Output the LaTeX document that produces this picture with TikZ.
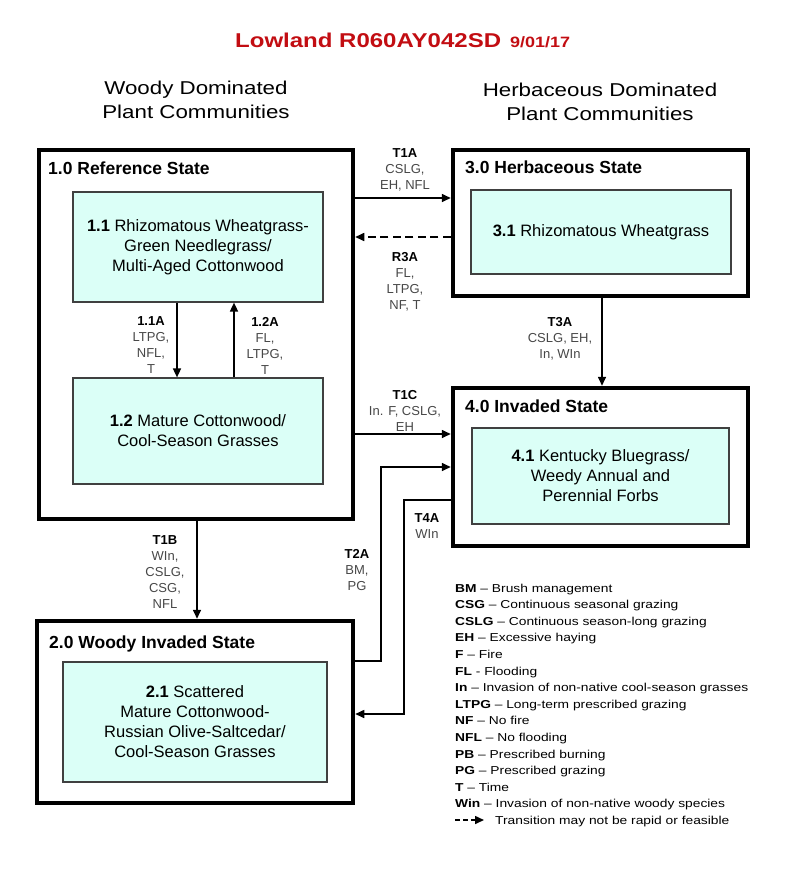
\documentclass[tikz,border=0pt]{standalone}
\usepackage{fontspec}
\setmainfont{Liberation Sans}
\newfontfamily\widesf[FakeStretch=1.2]{Liberation Sans}
\usetikzlibrary{arrows.meta}
\definecolor{titlered}{rgb}{0.76,0.05,0.07}
\definecolor{phasefill}{rgb}{0.86,1,0.97}
\definecolor{labelgray}{rgb}{0.28,0.28,0.28}

\begin{document}
\begin{tikzpicture}[x=1pt,y=-1pt,line join=miter,>={Triangle[length=9pt,width=8pt]},
  state/.style={draw,line width=4.5pt,inner sep=0pt},
  phase/.style={draw=black!75,line width=1.2pt,fill=phasefill,align=center,inner sep=0pt,font=\fontsize{16.5}{20}\selectfont},
  statetitle/.style={anchor=base west,inner sep=0pt,font=\bfseries\fontsize{17.5}{21}\selectfont},
  header/.style={align=center,inner sep=0pt,font=\widesf\fontsize{18.6}{24.5}\selectfont},
  trans/.style={align=center,inner sep=0pt,text=labelgray,font=\fontsize{13}{16}\selectfont},
  conn/.style={line width=1.6pt,->},
  legend/.style={anchor=base west,inner sep=0pt,font=\widesf\fontsize{11.5}{14}\selectfont}]
      \useasboundingbox (0,0) rectangle (800,879);
      % title and column headers
      \node[anchor=base west,inner sep=0pt,text=titlered,font=\widesf\bfseries\fontsize{20}{24}\selectfont] (title) at (235,47.5) {Lowland R060AY042SD};
      \node[anchor=base west,inner sep=0pt,text=titlered,font=\widesf\bfseries\fontsize{15}{18}\selectfont] (date) at (510,47.5) {9/01/17};
      \node[header] (woody) at (196,100) {Woody Dominated\\Plant Communities};
      \node[header] (herb) at (600,102) {Herbaceous Dominated\\Plant Communities};
      % states
      \node[state,minimum width=314pt,minimum height=369pt] (s1) at (196,334.5) {};
      \node[state,minimum width=316pt,minimum height=182pt] (s2) at (195,712) {};
      \node[state,minimum width=295pt,minimum height=146pt] (s3) at (600.5,223) {};
      \node[state,minimum width=295pt,minimum height=158pt] (s4) at (600.5,467) {};
      \node[statetitle] (t1) at (48,174) {1.0 Reference State};
      \node[statetitle] (t2) at (49,648) {2.0 Woody Invaded State};
      \node[statetitle] (t3) at (465,173) {3.0 Herbaceous State};
      \node[statetitle] (t4) at (465,412) {4.0 Invaded State};
      % community phases
      \node[phase,minimum width=250pt,minimum height=110pt] (p11) at (198,247) {\textbf{1.1} Rhizomatous Wheatgrass-\\Green Needlegrass/\\Multi-Aged Cottonwood};
      \node[phase,minimum width=250pt,minimum height=106pt] (p12) at (198,431) {\textbf{1.2} Mature Cottonwood/\\Cool-Season Grasses};
      \node[phase,minimum width=264pt,minimum height=120pt] (p21) at (195,722) {\textbf{2.1} Scattered\\Mature Cottonwood-\\Russian Olive-Saltcedar/\\Cool-Season Grasses};
      \node[phase,minimum width=260pt,minimum height=84pt] (p31) at (601,232) {\textbf{3.1} Rhizomatous Wheatgrass};
      \node[phase,minimum width=257pt,minimum height=96pt] (p41) at (600.5,476) {\textbf{4.1} Kentucky Bluegrass/\\Weedy Annual and\\Perennial Forbs};
      % connector levels
      \coordinate (x11) at (177,0);
      \coordinate (x12) at (234,0);
      \coordinate (xT1B) at (197,0);
      \coordinate (xT3A) at (602,0);
      \coordinate (xT2A) at (381,0);
      \coordinate (xT4A) at (404,0);
      \coordinate (yT1A) at (0,198);
      \coordinate (yR3A) at (0,237);
      \coordinate (yT1C) at (0,434);
      \coordinate (yT2A) at (0,467);
      \coordinate (yT4A) at (0,500);
      \coordinate (yT2Ab) at (0,661);
      \coordinate (yT4Ab) at (0,714);
      \draw[conn] (p11.south -| x11) -- (p12.north -| x11);
      \draw[conn] (p12.north -| x12) -- (p11.south -| x12);
      \draw[conn] (s1.east |- yT1A) -- (s3.west |- yT1A);
      \draw[conn,dash pattern=on 8pt off 4.5pt] (s3.west |- yR3A) -- (s1.east |- yR3A);
      \draw[conn] (s1.east |- yT1C) -- (s4.west |- yT1C);
      \draw[conn] (s1.south -| xT1B) -- (s2.north -| xT1B);
      \draw[conn] (s3.south -| xT3A) -- (s4.north -| xT3A);
      \draw[conn] (s2.east |- yT2Ab) -| (xT2A |- yT2A) -- (s4.west |- yT2A);
      \draw[conn] (s4.west |- yT4A) -| (xT4A |- yT4Ab) -- (s2.east |- yT4Ab);
      % transition labels
      \node[trans] (l11a) at (151,345.5) {\textcolor{black}{\textbf{1.1A}}\\LTPG,\\NFL,\\T};
      \node[trans] (l12a) at (265,345.5) {\textcolor{black}{\textbf{1.2A}}\\FL,\\LTPG,\\T};
      \node[trans] (lt1a) at (405,170) {\textcolor{black}{\textbf{T1A}}\\CSLG,\\EH, NFL};
      \node[trans] (lr3a) at (405,281.5) {\textcolor{black}{\textbf{R3A}}\\FL,\\LTPG,\\NF, T};
      \node[trans] (lt1c) at (405,411) {\textcolor{black}{\textbf{T1C}}\\In. F, CSLG,\\EH};
      \node[trans] (lt3a) at (560,339) {\textcolor{black}{\textbf{T3A}}\\CSLG, EH,\\In, WIn};
      \node[trans] (lt1b) at (165,572) {\textcolor{black}{\textbf{T1B}}\\WIn,\\CSLG,\\CSG,\\NFL};
      \node[trans] (lt2a) at (357,570) {\textcolor{black}{\textbf{T2A}}\\BM,\\PG};
      \node[trans] (lt4a) at (427,526.5) {\textcolor{black}{\textbf{T4A}}\\WIn};
      % legend
      \foreach \ab/\sep/\txt [count=\i] in {BM/–/Brush management,CSG/–/Continuous seasonal grazing,
          CSLG/–/Continuous season-long grazing,EH/–/Excessive haying,F/–/Fire,FL/-/Flooding,
          In/–/Invasion of non-native cool-season grasses,LTPG/–/Long-term prescribed grazing,
          NF/–/No fire,NFL/–/No flooding,PB/–/Prescribed burning,PG/–/Prescribed grazing,
          T/–/Time,Win/–/Invasion of non-native woody species}
        \node[legend] (lg\i) at (455,{592+16.6*(\i-1)}) {\textbf{\ab} \sep{} \txt};
      \coordinate (lgA) at (455,820);
      \node[legend] (lg15) at (495,824.4) {Transition may not be rapid or feasible};
      \draw[line width=1.6pt,dash pattern=on 5pt off 3pt,-{Triangle[length=9pt,width=8pt]},shorten >=11pt] (lgA) -- (lg15.west |- lgA);
\end{tikzpicture}
\end{document}
